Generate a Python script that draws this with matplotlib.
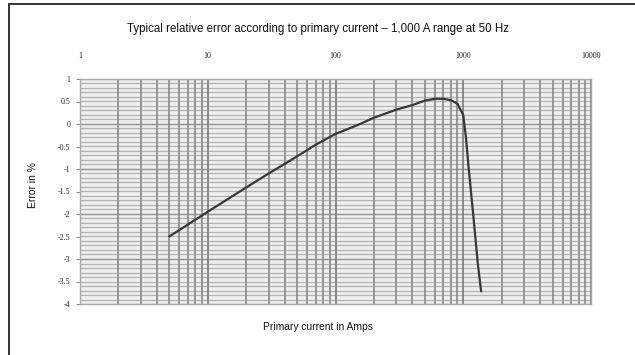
import matplotlib
matplotlib.use("Agg")
import matplotlib.pyplot as plt
import numpy as np
from matplotlib.patches import Rectangle
from matplotlib.ticker import FixedLocator, NullFormatter

# Data
current_amps = [5, 10, 20, 30, 50, 70, 100, 150, 200, 300, 400, 500, 600, 700, 800, 900, 1000, 1050, 1100, 1200, 1300, 1380]
error_pct = [-2.5, -1.95, -1.41, -1.1, -0.72, -0.46, -0.22, -0.02, 0.14, 0.32, 0.42, 0.52, 0.56, 0.56, 0.53, 0.45, 0.2, -0.3, -0.95, -2.05, -3.1, -3.72]

x_ticks = [1, 10, 100, 1000, 10000]
x_tick_labels = ["1", "10", "100", "1000", "10000"]
y_ticks = [1, 0.5, 0, -0.5, -1, -1.5, -2, -2.5, -3, -3.5, -4]
y_tick_labels = ["1", "0.5", "0", "-0.5", "-1", "-1.5", "-2", "-2.5", "-3", "-3.5", "-4"]

title = "Typical relative error according to primary current \u2013 1,000 A range at 50 Hz"
x_label = "Primary current in Amps"
y_label = "Error in %"

W, H = 635, 355
fig = plt.figure(figsize=(W / 100, H / 100), dpi=100)
fig.patch.set_facecolor("white")

# outer frame (only left and top visible in the reference)
fig.patches.append(Rectangle((9 / W, -0.1), 1.2, 1 - 4 / H + 0.1, transform=fig.transFigure,
                             fill=False, edgecolor="#222222", linewidth=1.3))

left, right, top, bottom = 80, 591, 79, 304
ax = fig.add_axes([left / W, 1 - bottom / H, (right - left) / W, (bottom - top) / H])
ax.set_facecolor("#eeeeee")
ax.set_xscale("log")
ax.set_xlim(1, 10000)
ax.set_ylim(-4, 1)

# horizontal grid: every 0.1
for v in np.arange(-4, 1.0001, 0.1):
    ax.axhline(v, color="#b4b4b4", linewidth=0.9, zorder=1)
for v in [0, -1, -2, -3]:
    ax.axhline(v, color="#999999", linewidth=1.0, zorder=1)
# vertical grid: major and minor decades
minor_x = [m * 10 ** d for d in range(0, 4) for m in range(2, 10)]
for xv in minor_x:
    ax.axvline(xv, color="#888888", linewidth=1.2, zorder=2)
for xv in x_ticks:
    ax.axvline(xv, color="#7a7a7a", linewidth=1.2, zorder=2)

ax.plot(current_amps, error_pct, color="#383838", linewidth=1.6, zorder=3, solid_capstyle="round")

for s in ax.spines.values():
    s.set_color("#aaaaaa")
    s.set_linewidth(1.0)

ax.xaxis.set_ticks_position("top")
ax.xaxis.set_major_locator(FixedLocator(x_ticks))
ax.set_xticklabels(x_tick_labels, fontsize=5.8, family="Liberation Serif", color="#222222")
ax.xaxis.set_minor_formatter(NullFormatter())
ax.tick_params(axis="x", which="both", length=0, pad=14)
ax.yaxis.set_major_locator(FixedLocator(y_ticks))
ax.set_yticklabels(y_tick_labels, fontsize=5.8, family="Liberation Serif", color="#222222")
ax.tick_params(axis="y", which="major", length=3, width=0.8, color="#888888", pad=4)

fig.text(318 / W, 1 - 29 / H, title, ha="center", va="center", fontsize=8.3,
         family="Liberation Sans", color="#111111")
fig.text(318 / W, 1 - 327 / H, x_label, ha="center", va="center", fontsize=7.4,
         family="Liberation Sans", color="#111111")
fig.text(33 / W, 1 - 185 / H, y_label, ha="center", va="center", rotation=90, fontsize=7.4,
         family="Liberation Sans", color="#111111")

fig.savefig("out.png", dpi=100)
